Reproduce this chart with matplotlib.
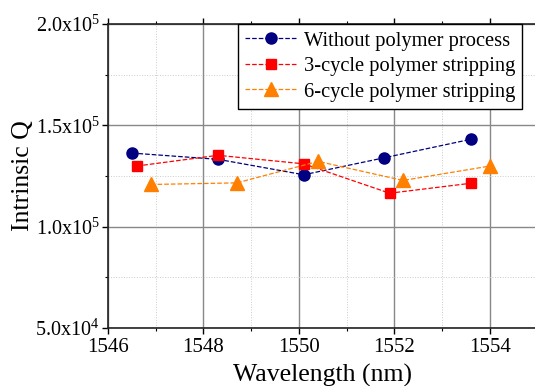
import matplotlib
matplotlib.use("Agg")
import matplotlib.pyplot as plt
from matplotlib.ticker import MultipleLocator, FuncFormatter

# Measured intrinsic Q versus resonance wavelength
wl_none = [1546.50, 1548.31, 1550.10, 1551.79, 1553.60]
q_none = [136300, 133200, 125600, 134000, 143100]

wl_3cyc = [1546.60, 1548.30, 1550.10, 1551.90, 1553.60]
q_3cyc = [129900, 135200, 131000, 116500, 121400]

wl_6cyc = [1546.90, 1548.70, 1550.40, 1552.18, 1554.00]
q_6cyc = [120800, 121600, 132200, 122800, 129900]

labels = ["Without polymer process", "3-cycle polymer stripping", "6-cycle polymer stripping"]

plt.rcParams['font.family'] = ['Liberation Serif', 'DejaVu Serif']
plt.rcParams['mathtext.fontset'] = 'stix'

fig = plt.figure(figsize=(5.35, 3.86), dpi=100)
ax = fig.add_axes([0.2019, 0.1503, 0.803, 0.7876])

ax.plot(wl_none, q_none, '--o', color='#000080', lw=0.9, ms=8, label=labels[0])
ax.plot(wl_3cyc, q_3cyc, '--s', color='#ff0000', lw=0.9, ms=7, label=labels[1])
ax.plot(wl_6cyc, q_6cyc, '--^', color='#ff8000', lw=0.9, ms=9.5, label=labels[2])

ax.set_xlim(1546, 1555)
ax.set_ylim(50000, 200000)
ax.xaxis.set_major_locator(MultipleLocator(2))
ax.xaxis.set_minor_locator(MultipleLocator(1))
ax.yaxis.set_major_locator(MultipleLocator(50000))
ax.yaxis.set_minor_locator(MultipleLocator(25000))


def sci_fmt(v, pos):
    exp = len(str(int(v))) - 1
    mant = v / 10 ** exp
    return r'$\mathregular{%.1fx10^{%d}}$' % (mant, exp)


ax.yaxis.set_major_formatter(FuncFormatter(sci_fmt))

ax.grid(which='major', color='#888888', lw=1.0, ls='-')
ax.grid(which='minor', color='#cccccc', lw=0.7, ls=':')
ax.set_axisbelow(True)

ax.tick_params(which='both', direction='out', top=True, right=True)
ax.tick_params(axis='x', labelsize=15)
ax.tick_params(axis='y', labelsize=14.5, pad=2)
ax.tick_params(which='major', length=4, width=1)
ax.tick_params(which='minor', length=2.5, width=0.8)
for s in ax.spines.values():
    s.set_linewidth(1.2)
    s.set_color('#222222')

ax.set_xlabel("Wavelength (nm)", fontsize=18.5, labelpad=5)
ax.set_ylabel("Intrinsic Q", fontsize=18.5, labelpad=1)

leg = ax.legend(loc='upper right', bbox_to_anchor=(0.9645, 1.0), fontsize=14.8,
                fancybox=False, framealpha=1, edgecolor='black',
                borderpad=0.35, labelspacing=0.3, handlelength=2.5,
                handletextpad=0.35, borderaxespad=0)
leg.get_frame().set_linewidth(1.0)

fig.savefig("out.png", dpi=100)
